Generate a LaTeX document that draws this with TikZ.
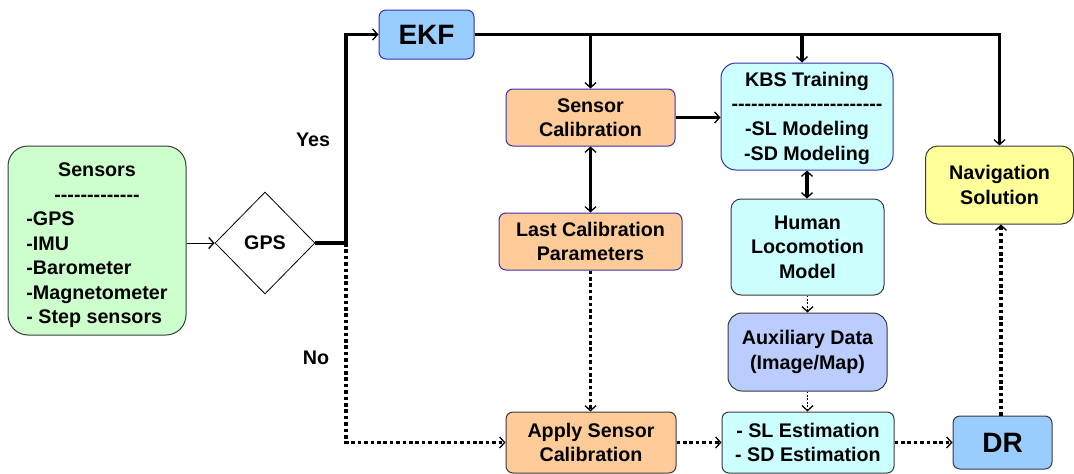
\documentclass[tikz,border=0pt]{standalone}
\usepackage{fontspec}
\setmainfont{Liberation Sans}
\usetikzlibrary{arrows.meta,shapes.geometric,calc}
\definecolor{cgreen}{HTML}{CCFFCC}
\definecolor{cblue}{HTML}{99CCFF}
\definecolor{corange}{HTML}{FFCC99}
\definecolor{ccyan}{HTML}{CCFFFF}
\definecolor{cyellow}{HTML}{FFFF99}
\definecolor{cperi}{HTML}{BBCCFF}
\definecolor{bgray}{HTML}{3A3A3A}
\definecolor{bblue}{HTML}{3333AA}
\newcommand\mydashes[1]{\foreach \i in {1,...,#1}{\mbox{-}}}
\tikzset{
  box/.style={draw=bgray, line width=1pt, rounded corners=7pt, inner sep=2pt, align=center,
    font=\fontsize{19.7}{24.5}\selectfont\bfseries},
  bigbox/.style={box, font=\fontsize{28}{30}\selectfont\bfseries},
  tip/.style={-{Straight Barb[length=5pt,width=11pt,line width=1.3pt]}},
  dtip/.style={{Straight Barb[length=5pt,width=11pt,line width=1.3pt]}-{Straight Barb[length=5pt,width=11pt,line width=1.3pt]}},
  thickline/.style={line width=3.2pt},
  dotline/.style={line width=3.6pt, dash pattern=on 3.6pt off 2.8pt},
  thindot/.style={line width=1.4pt, dash pattern=on 1.8pt off 1.6pt},
  lbl/.style={font=\fontsize{19.7}{22}\selectfont\bfseries}
}
\begin{document}
\begin{tikzpicture}[x=1pt,y=-1pt]
\useasboundingbox (0,0) rectangle (1074,474);
% nodes
\node[box, fill=cgreen, rounded corners=20pt, minimum width=178pt, minimum height=189pt] (sensors) at (97,240.5)
  {\raisebox{-5pt}[\height][\depth]{\begin{tabular}{@{}l@{}}\multicolumn{1}{@{}c@{}}{Sensors}\\[0pt]\multicolumn{1}{@{}c@{}}{\mydashes{13}}\\-GPS\\-IMU\\-Barometer\\-Magnetometer\\- Step sensors\end{tabular}}};
\node[draw=black, line width=0.8pt, shape=diamond, aspect=1, inner sep=0pt, minimum width=100pt, minimum height=102pt,
  font=\fontsize{19.7}{22}\selectfont\bfseries] (gps) at (265,243) {GPS};
\node[bigbox, fill=cblue, draw=bblue, minimum width=95pt, minimum height=49pt] (ekf) at (426.5,34.5) {EKF};
\node[box, fill=corange, draw=bblue, minimum width=169pt, minimum height=57pt] (sencal) at (590.5,117.5) {Sensor\\Calibration};
\node[box, fill=ccyan, draw=bblue, rounded corners=15pt, minimum width=172pt, minimum height=107pt] (kbs) at (807,116.5)
  {\raisebox{-2pt}[\height][\depth]{\begin{tabular}{@{}c@{}}KBS Training\\[-1pt]\mydashes{23}\\[1pt]-SL Modeling\\-SD Modeling\end{tabular}}};
\node[box, fill=cyellow, rounded corners=12pt, minimum width=148pt, minimum height=78pt] (nav) at (999.5,185) {Navigation\\Solution};
\node[box, fill=corange, draw=bblue, minimum width=183pt, minimum height=57pt] (lastcal) at (590.5,241.5) {Last Calibration\\Parameters};
\node[box, fill=ccyan, rounded corners=10pt, minimum width=153pt, minimum height=96pt] (hlm) at (807.5,247) {Human\\Locomotion\\Model};
\node[box, fill=cperi, rounded corners=14pt, minimum width=159pt, minimum height=78pt] (aux) at (807.5,352) {Auxiliary Data\\(Image/Map)};
\node[box, fill=corange, minimum width=170pt, minimum height=61pt] (apply) at (591,442.5) {Apply Sensor\\Calibration};
\node[box, fill=ccyan, minimum width=172pt, minimum height=61pt] (slest) at (808,442.5) {- SL Estimation\\- SD Estimation};
\node[bigbox, fill=cblue, minimum width=99pt, minimum height=53pt] (dr) at (1002.5,442.5) {DR};
\node[lbl] (yes) at (313,140) {Yes};
\node[lbl] (no) at (316,358) {No};
\coordinate (j) at (346,243);
% connectors
\draw[tip, line width=1pt] (sensors.east |- gps.west) -- (gps.west);
\draw[thickline] (gps.east) -- (j);
\draw[thickline, tip] (j) |- (ekf.west);
\draw[dotline, tip] (j) |- (apply.west);
\draw[thickline, tip] (ekf.east) -| (nav.north);
\draw[thickline, tip] (sencal.north |- ekf.east) -- (sencal.north);
\draw[thickline, tip] ([xshift=-5pt]kbs.north |- ekf.east) -- ([xshift=-5pt]kbs.north);
\draw[thickline, tip] (sencal.east) -- (sencal.east -| kbs.west);
\draw[thickline, dtip] (sencal.south) -- (lastcal.north);
\draw[thickline, dtip] (kbs.south) -- (kbs.south |- hlm.north);
\draw[dotline, tip] (lastcal.south) -- (lastcal.south |- apply.north);
\draw[thindot, tip] (hlm.south) -- (aux.north);
\draw[thindot, tip] (aux.south) -- (aux.south |- slest.north);
\draw[dotline, tip] (apply.east) -- (slest.west);
\draw[dotline, tip] (slest.east) -- (dr.west);
\draw[dotline, tip] ([xshift=-1.5pt]dr.north) -- ([xshift=-1.5pt]dr.north |- nav.south);
\end{tikzpicture}
\end{document}
